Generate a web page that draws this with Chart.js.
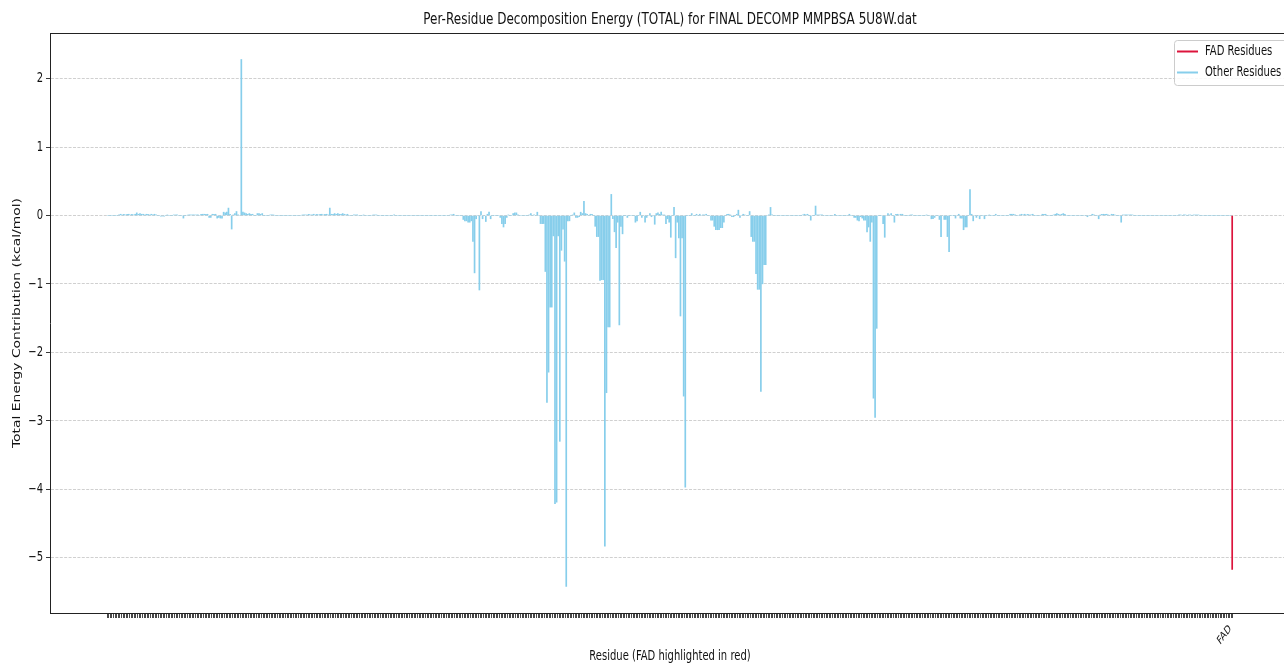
<!DOCTYPE html>
<html>
<head>
<meta charset="utf-8">
<script src="https://cdn.jsdelivr.net/npm/chart.js@4.4.1/dist/chart.umd.min.js"></script>
<style>
  html, body { margin: 0; padding: 0; overflow: hidden; background: #fff; }
  #wrap { width: 1284px; height: 665px; overflow: hidden; }
  canvas { display: block; }
</style>
</head>
<body>
<div id="wrap"><canvas id="chart" width="1290" height="665"></canvas></div>
<script>
// ---- data -------------------------------------------------------------
const chartTitle = 'Per-Residue Decomposition Energy (TOTAL) for FINAL DECOMP MMPBSA 5U8W.dat';
const xAxisTitle = 'Residue (FAD highlighted in red)';
const yAxisTitle = 'Total Energy Contribution (kcal/mol)';
const seriesNames = ['FAD Residues', 'Other Residues'];
const fadLabel = 'FAD';
const fadEnergy = [-5.17];          // ligand residue, placed after the protein residues
const yTickValues = [-5, -4, -3, -2, -1, 0, 1, 2];

// total energy per protein residue (kcal/mol), residue order 0..698
const otherEnergy = [
  0,0,0,0,0,0,0,0.01,0.02,0.01,0.02,0.01,0.02,0.02,0.01,0.02,0.01,0.02,0.04,0.02,
  0.03,0.02,0.02,0.01,0.02,0.02,0.01,0.02,0.01,0.02,0.01,0,0,-0.01,-0.01,-0.01,0,0.01,0,0,
  0,0.01,0.01,0.01,0,0,0,-0.04,0,0,0.01,0.01,0.01,0.01,0.01,0.01,0.01,0,0.02,0.02,
  0.02,0.02,0.02,-0.03,-0.03,0.02,0.02,0.02,-0.04,-0.03,-0.04,-0.04,0.05,0.04,0.05,0.11,0.02,-0.2,0.01,0.03,
  0.06,0.01,0,2.28,0.05,0.04,0.03,0.02,0.03,0.02,0.02,0,0,0.03,0.03,0.02,0.03,0,0,0,
  0,0.01,0.01,0.01,0,0,0,0,0,0,0,0,0,0,0,0,0,0,0,0,
  0,0.01,0.01,0.01,0.01,0.02,0.01,0.01,0.02,0.01,0.02,0.01,0.02,0.02,0.01,0.02,0.02,0.01,0.11,0.02,
  0.02,0.03,0.02,0.03,0.02,0.02,0.03,0.02,0.01,0.02,0,0,0,0.01,0.01,0.01,0,0,0,0.01,
  0,0,0,0,0,0.01,0.01,0.01,0,0,0,0,0,0,0,0,0,0,0.01,0,
  0,0,0,0,0,0,0,0,0,0,0,0,0,0,0,0,0,0,0,0,
  0,0,0,0,0,0,0,0,0,0,0,0,0,0.01,0.01,0.02,0,0,0,0,
  0,-0.06,-0.08,-0.08,-0.1,-0.1,-0.08,-0.38,-0.84,-0.05,0,-1.09,0.06,-0.05,0,-0.09,0.02,0.05,-0.05,0,
  0,0,0,0,-0.03,-0.12,-0.17,-0.12,-0.03,0.01,0,0,0.03,0.04,0.04,0.01,0,0,0,0,
  0,0,0.01,0.03,0,0.01,0,0.05,0,-0.12,-0.12,-0.12,-0.82,-2.73,-2.29,-1.34,-1.34,-0.3,-4.21,-4.19,
  -0.3,-3.3,-0.51,-0.2,-0.67,-5.42,-0.08,-0.08,0,0.01,0.04,-0.03,-0.03,-0.02,0.05,0.03,0.21,0.03,0.02,0,
  0.02,0.02,0,-0.16,-0.31,-0.31,-0.95,-0.94,-0.94,-4.83,-2.59,-1.63,-1.63,0.31,-0.05,-0.24,-0.47,-0.1,-1.6,-0.16,
  -0.27,0,0,-0.03,0,0,0,0,-0.1,-0.08,0,0.05,-0.03,0,-0.1,-0.03,0,0.03,-0.02,0,
  -0.13,0.03,0.04,0.02,0.05,0.01,0.01,-0.12,-0.05,-0.1,-0.32,0,0.12,-0.62,-0.1,-0.33,-1.47,-0.33,-2.64,-3.97,
  0,0,0,0.03,0,0,0.02,0,0.02,0,0.01,0.01,0.02,0,0,-0.07,-0.07,-0.16,-0.21,-0.21,
  -0.21,-0.18,-0.18,-0.1,0,0.02,0.02,0.01,-0.02,-0.02,0,0.02,0.08,-0.03,0,0.02,0.01,0,0,0.06,
  -0.31,-0.38,-0.38,-0.85,-1.08,-1.08,-2.57,-1.0,-0.72,-0.72,0,0.01,0.12,0.01,0,0,0,0,0,0,
  0,0,0,0,0,0,0,0,0,0,0,0,0.01,0.02,0.01,0.02,0,-0.07,0,0,
  0.14,0.01,0.01,0.01,0.01,0,0,0,0,0,0,0,0.02,0,0,0,0,0,0,0,
  0,0.02,0,0,-0.03,-0.03,-0.07,-0.08,-0.02,-0.04,-0.07,-0.07,-0.24,-0.17,-0.38,-0.1,-2.67,-2.95,-1.65,0,
  0,0,-0.12,-0.32,0,0.03,0.01,0.03,0,-0.1,0.02,0.02,0.01,0.02,0.02,0,0,0,0,0.01,
  0.01,0,0,0,0,0,0,0,0,0.01,0,0,-0.05,-0.05,-0.03,0,0,-0.06,-0.31,0,
  -0.06,-0.06,-0.31,-0.53,0,0,0,-0.04,0,0.02,-0.04,-0.04,-0.21,-0.17,-0.17,0,0.38,0.02,-0.08,0,
  -0.03,0,-0.05,0,0,-0.05,0,0,0.01,0,0,0,0.02,0,0,0,0,0,0,0,
  0,0.02,0.02,0.02,0.01,0,0,0.01,0.02,0.01,0.02,0.01,0.02,0.01,0.01,0.02,0,0,0,0,
  0,0.02,0.02,0.02,0,0,0,0,0.01,0.02,0.03,0.02,0.01,0.02,0.03,0.02,0,0,0,0,
  0,0,0,0,0,0,0,0,0,-0.02,0,0,0.02,0.01,0,0,-0.05,0.01,0.02,0.02,
  0.02,0.02,0.01,0,0.02,0.02,0.01,0,0,0,-0.1,0.01,0.01,0.01,0.01,0.01,0.01,0.01,0,0,
  0,0,0,0,0,0,0,0,0,0,0,0,0,0,0,0,0,0,0,0,
  0,0,0,0,0,0,0.01,0.01,0,0.01,0.01,0,0.01,0.01,0,0.01,0.01,0.01,0.01,0,
  0,0,0,0,0,0,0,0,0,0,0,0,0,0,0,0,0,0,0
];

// ---- layout helpers ----------------------------------------------------
const residueCount = otherEnergy.length + fadEnergy.length;
const fadIndex = otherEnergy.length;
const barWidth = 0.8;
const xPad = 0.05 * (residueCount - 1 + barWidth);
const xMin = -barWidth / 2 - xPad;
const xMax = residueCount - 1 + barWidth / 2 + xPad;
const allVals = otherEnergy.concat(fadEnergy);
const vMin = Math.min(...allVals), vMax = Math.max(...allVals);
const yMin = vMin - 0.05 * (vMax - vMin);
const yMax = vMax + 0.05 * (vMax - vMin);

const FAD_COLOR = '#DC143C';
const OTHER_COLOR = '#87CEEB';
const FONT = "'DejaVu Sans', sans-serif";
const SQUEEZE = 0.72;          // horizontal compression of all lettering
const INK = '#111';

// text helper: compressed horizontally, optional rotation (radians)
function drawText(ctx, text, x, y, size, align, baseline, rot) {
  ctx.save();
  ctx.translate(x, y);
  ctx.scale(SQUEEZE, 1);
  if (rot) ctx.rotate(rot);
  ctx.font = `${size}px ${FONT}`;
  ctx.textAlign = align;
  ctx.textBaseline = baseline;
  ctx.fillStyle = INK;
  ctx.fillText(text, 0, 0);
  ctx.restore();
}

const frameAndText = {
  id: 'frameAndText',
  afterDraw(chart) {
    const {ctx, chartArea: a, scales} = chart;
    ctx.save();
    // top spine
    ctx.strokeStyle = '#222';
    ctx.lineWidth = 1;
    ctx.beginPath();
    ctx.moveTo(a.left, a.top + 0.5);
    ctx.lineTo(a.right, a.top + 0.5);
    ctx.stroke();
    ctx.restore();

    const cx = (a.left + a.right) / 2;
    drawText(ctx, chartTitle, cx, 20, 16.7, 'center', 'middle');
    drawText(ctx, xAxisTitle, cx, 656, 13.9, 'center', 'middle');
    drawText(ctx, yAxisTitle, 17, (a.top + a.bottom) / 2, 13.9, 'center', 'middle', -Math.PI / 2);

    // y tick labels
    yTickValues.forEach(v => {
      const t = v < 0 ? '\u2212' + Math.abs(v) : String(v);
      drawText(ctx, t, a.left - 7, scales.y.getPixelForValue(v), 13.9, 'right', 'middle');
    });
    // x tick label for the ligand
    const fx = scales.x.getPixelForValue(fadIndex);
    drawText(ctx, fadLabel, fx - 5, 623, 11.5, 'right', 'top', -Math.PI / 4);

    // legend, upper right inside the axes
    const lx = 1174, ly = 40, lw = 113, lh = 45;
    ctx.save();
    ctx.fillStyle = 'rgba(255,255,255,0.85)';
    ctx.strokeStyle = '#cccccc';
    ctx.lineWidth = 1;
    ctx.beginPath();
    ctx.roundRect(lx + 0.5, ly + 0.5, lw, lh, 3);
    ctx.fill();
    ctx.stroke();
    ctx.restore();
    const colors = [FAD_COLOR, OTHER_COLOR];
    seriesNames.forEach((name, i) => {
      const y = ly + 11.5 + i * 21;
      ctx.save();
      ctx.strokeStyle = colors[i];
      ctx.lineWidth = 2;
      ctx.beginPath();
      ctx.moveTo(lx + 3, y);
      ctx.lineTo(lx + 24, y);
      ctx.stroke();
      ctx.restore();
      drawText(ctx, name, lx + 31, y, 13.9, 'left', 'middle');
    });
  }
};

// bars are 0.8 residue wide, one bar per residue (no grouping offset);
// a small inflation keeps the thin bars from washing out when anti-aliased
const barOpts = {grouped: false, barPercentage: 1, categoryPercentage: barWidth, borderWidth: 0, inflateAmount: 0.2};

new Chart(document.getElementById('chart'), {
  type: 'bar',
  data: {
    datasets: [
      Object.assign({
        label: seriesNames[0],
        data: fadEnergy.map((v, i) => ({x: fadIndex + i, y: v})),
        backgroundColor: FAD_COLOR
      }, barOpts),
      Object.assign({
        label: seriesNames[1],
        data: otherEnergy.map((v, i) => ({x: i, y: v})),
        backgroundColor: OTHER_COLOR
      }, barOpts)
    ]
  },
  plugins: [frameAndText],
  options: {
    responsive: false,
    animation: false,
    events: [],
    layout: {padding: {top: 33, left: 0, right: 0, bottom: 0}},
    plugins: {legend: {display: false}, title: {display: false}, tooltip: {enabled: false}},
    scales: {
      x: {
        type: 'linear',
        min: xMin,
        max: xMax,
        afterBuildTicks(scale) {
          const t = [];
          for (let i = 0; i < residueCount; i++) t.push({value: i});
          scale.ticks = t;
        },
        afterFit(scale) { scale.height = 52; },
        ticks: {display: false, autoSkip: false},
        grid: {drawOnChartArea: false, drawTicks: true, tickLength: 5, tickColor: '#333', tickWidth: 0.9},
        border: {display: true, color: '#222', width: 1}
      },
      y: {
        min: yMin,
        max: yMax,
        afterBuildTicks(scale) { scale.ticks = yTickValues.map(v => ({value: v})); },
        afterFit(scale) { scale.width = 50; },
        ticks: {display: false},
        grid: {color: '#cbcbcb', lineWidth: 0.9, drawTicks: true, tickLength: 4, tickColor: '#222', tickBorderDash: []},
        border: {display: true, color: '#222', width: 1, dash: [3, 1.4]}
      }
    }
  }
});
</script>
</body>
</html>
